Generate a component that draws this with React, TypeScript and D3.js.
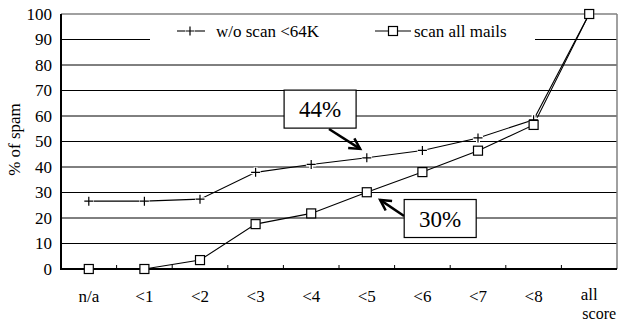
import React from "react";
import * as d3 from "d3";

const categories = ["n/a", "<1", "<2", "<3", "<4", "<5", "<6", "<7", "<8", "all|score"];
const woScan = [26.6, 26.6, 27.4, 37.9, 41, 43.6, 46.5, 51.4, 58.5, 100];
const scanAll = [0, 0, 3.5, 17.6, 21.8, 30.1, 38, 46.4, 56.5, 100];
const yTicks = [0, 10, 20, 30, 40, 50, 60, 70, 80, 90, 100];
const seriesNames = ["w/o scan <64K", "scan all mails"];
const annotations = [
  { label: "44%", bx: 4.16, by: 62.7, ax0: 4.32, ay0: 54.9, ax1: 4.88, ay1: 47.1 },
  { label: "30%", bx: 6.32, by: 19.8, ax0: 5.67, ay0: 20.8, ax1: 5.24, ay1: 27.1 },
];

const W = 619, H = 324;
const L = 61, R = 617, T = 14, B = 269;
const FONT = "Liberation Serif";

export default function App() {
  const x = d3.scaleBand().domain(categories).range([L, R]).padding(0);
  const xi = d3.scaleLinear().domain([-0.5, categories.length - 0.5]).range([L, R]);
  const y = d3.scaleLinear().domain([0, 100]).range([B, T]);
  const cx = (c: string) => (x(c) as number) + x.bandwidth() / 2;
  const line = d3.line<number>().x((_, i) => cx(categories[i])).y((d) => y(d));

  const plus = (px: number, py: number, k: string) => (
    <g key={k}>
      <path d={`M${px - 5},${py}H${px + 5}M${px},${py - 5}V${py + 5}`} stroke="#fff" strokeWidth={4} />
      <path d={`M${px - 4.5},${py}H${px + 4.5}M${px},${py - 4.5}V${py + 4.5}`} stroke="#000" strokeWidth={1.2} />
    </g>
  );
  const square = (px: number, py: number, k: string) => (
    <rect key={k} x={px - 4.5} y={py - 4.5} width={9} height={9} fill="#fff" stroke="#000" strokeWidth={1.2} />
  );

  const arrowHead = (x0: number, y0: number, x1: number, y1: number) => {
    const a = Math.atan2(y1 - y0, x1 - x0);
    const len = 12, sp = 0.5;
    const p1 = [x1 - len * Math.cos(a - sp), y1 - len * Math.sin(a - sp)];
    const p2 = [x1 - len * Math.cos(a + sp), y1 - len * Math.sin(a + sp)];
    return `M${p1[0]},${p1[1]}L${x1},${y1}L${p2[0]},${p2[1]}`;
  };

  const ts = { fontFamily: FONT } as React.CSSProperties;

  return (
    <svg width={W} height={H} style={{ position: "absolute", left: 0, top: 0, background: "#fff", fontFamily: FONT }}>
      <rect x={0} y={0} width={W} height={H} fill="#fff" />
      {yTicks.filter((t) => t > 0 && t < 100).map((t) => (
        <line key={t} x1={L} x2={R} y1={y(t)} y2={y(t)} stroke="#000" strokeWidth={1} />
      ))}
      <line x1={L} x2={R} y1={y(100)} y2={y(100)} stroke="#808080" strokeWidth={1.5} />
      <line x1={R} x2={R} y1={y(100)} y2={B} stroke="#808080" strokeWidth={1.5} />
      <rect x={150} y={19} width={385} height={27} fill="#fff" />
      <line x1={L} x2={L} y1={T} y2={B + 1} stroke="#000" strokeWidth={2} />
      <line x1={L} x2={R} y1={B} y2={B} stroke="#000" strokeWidth={2} />
      {categories.slice(1).map((c) => (
        <line key={c} x1={x(c) as number} x2={x(c) as number} y1={B} y2={B - 4} stroke="#000" strokeWidth={1} />
      ))}
      {yTicks.map((t) => (
        <text key={t} x={52} y={y(t)} dy="0.35em" textAnchor="end" fontSize={17} style={ts}>{t}</text>
      ))}
      <text transform={`translate(20,${(T + B) / 2 - 2}) rotate(-90)`} textAnchor="middle" fontSize={17} style={ts}>% of spam</text>
      {categories.map((c) => {
        const parts = c.split("|");
        return (
          <g key={c}>
            <text x={cx(c)} y={parts[1] ? 300 : 302} textAnchor="middle" fontSize={17} style={ts}>{parts[0]}</text>
            {parts[1] && <text x={cx(c) + 10} y={319} textAnchor="middle" fontSize={16} style={ts}>{parts[1]}</text>}
          </g>
        );
      })}
      <path d={line(woScan) || ""} fill="none" stroke="#000" strokeWidth={1.1} />
      <path d={line(scanAll) || ""} fill="none" stroke="#000" strokeWidth={1.1} />
      {woScan.map((v, i) => plus(cx(categories[i]), y(v), "p" + i))}
      {scanAll.map((v, i) => square(cx(categories[i]), y(v), "s" + i))}
      <g>
        <line x1={177} x2={205} y1={31} y2={31} stroke="#000" strokeWidth={1.1} />
        {plus(190, 31, "lp")}
        <text x={216} y={37} fontSize={17} style={ts}>{seriesNames[0]}</text>
        <line x1={375} x2={411} y1={31} y2={31} stroke="#000" strokeWidth={1.1} />
        {square(393, 31, "ls")}
        <text x={414} y={37} fontSize={17} style={ts}>{seriesNames[1]}</text>
      </g>
      {annotations.map((a) => {
        const bxp = xi(a.bx), byp = y(a.by);
        const x0 = xi(a.ax0), y0 = y(a.ay0), x1 = xi(a.ax1), y1 = y(a.ay1);
        return (
          <g key={a.label}>
            <path d={`M${x0},${y0}L${x1},${y1}`} stroke="#000" strokeWidth={2.5} />
            <path d={arrowHead(x0, y0, x1, y1)} fill="none" stroke="#000" strokeWidth={2.5} />
            <rect x={bxp - 36} y={byp - 19} width={72} height={38} fill="#fff" stroke="#000" strokeWidth={1.2} />
            <text x={bxp} y={byp} dy="0.36em" textAnchor="middle" fontSize={23} style={ts}>{a.label}</text>
          </g>
        );
      })}
    </svg>
  );
}
